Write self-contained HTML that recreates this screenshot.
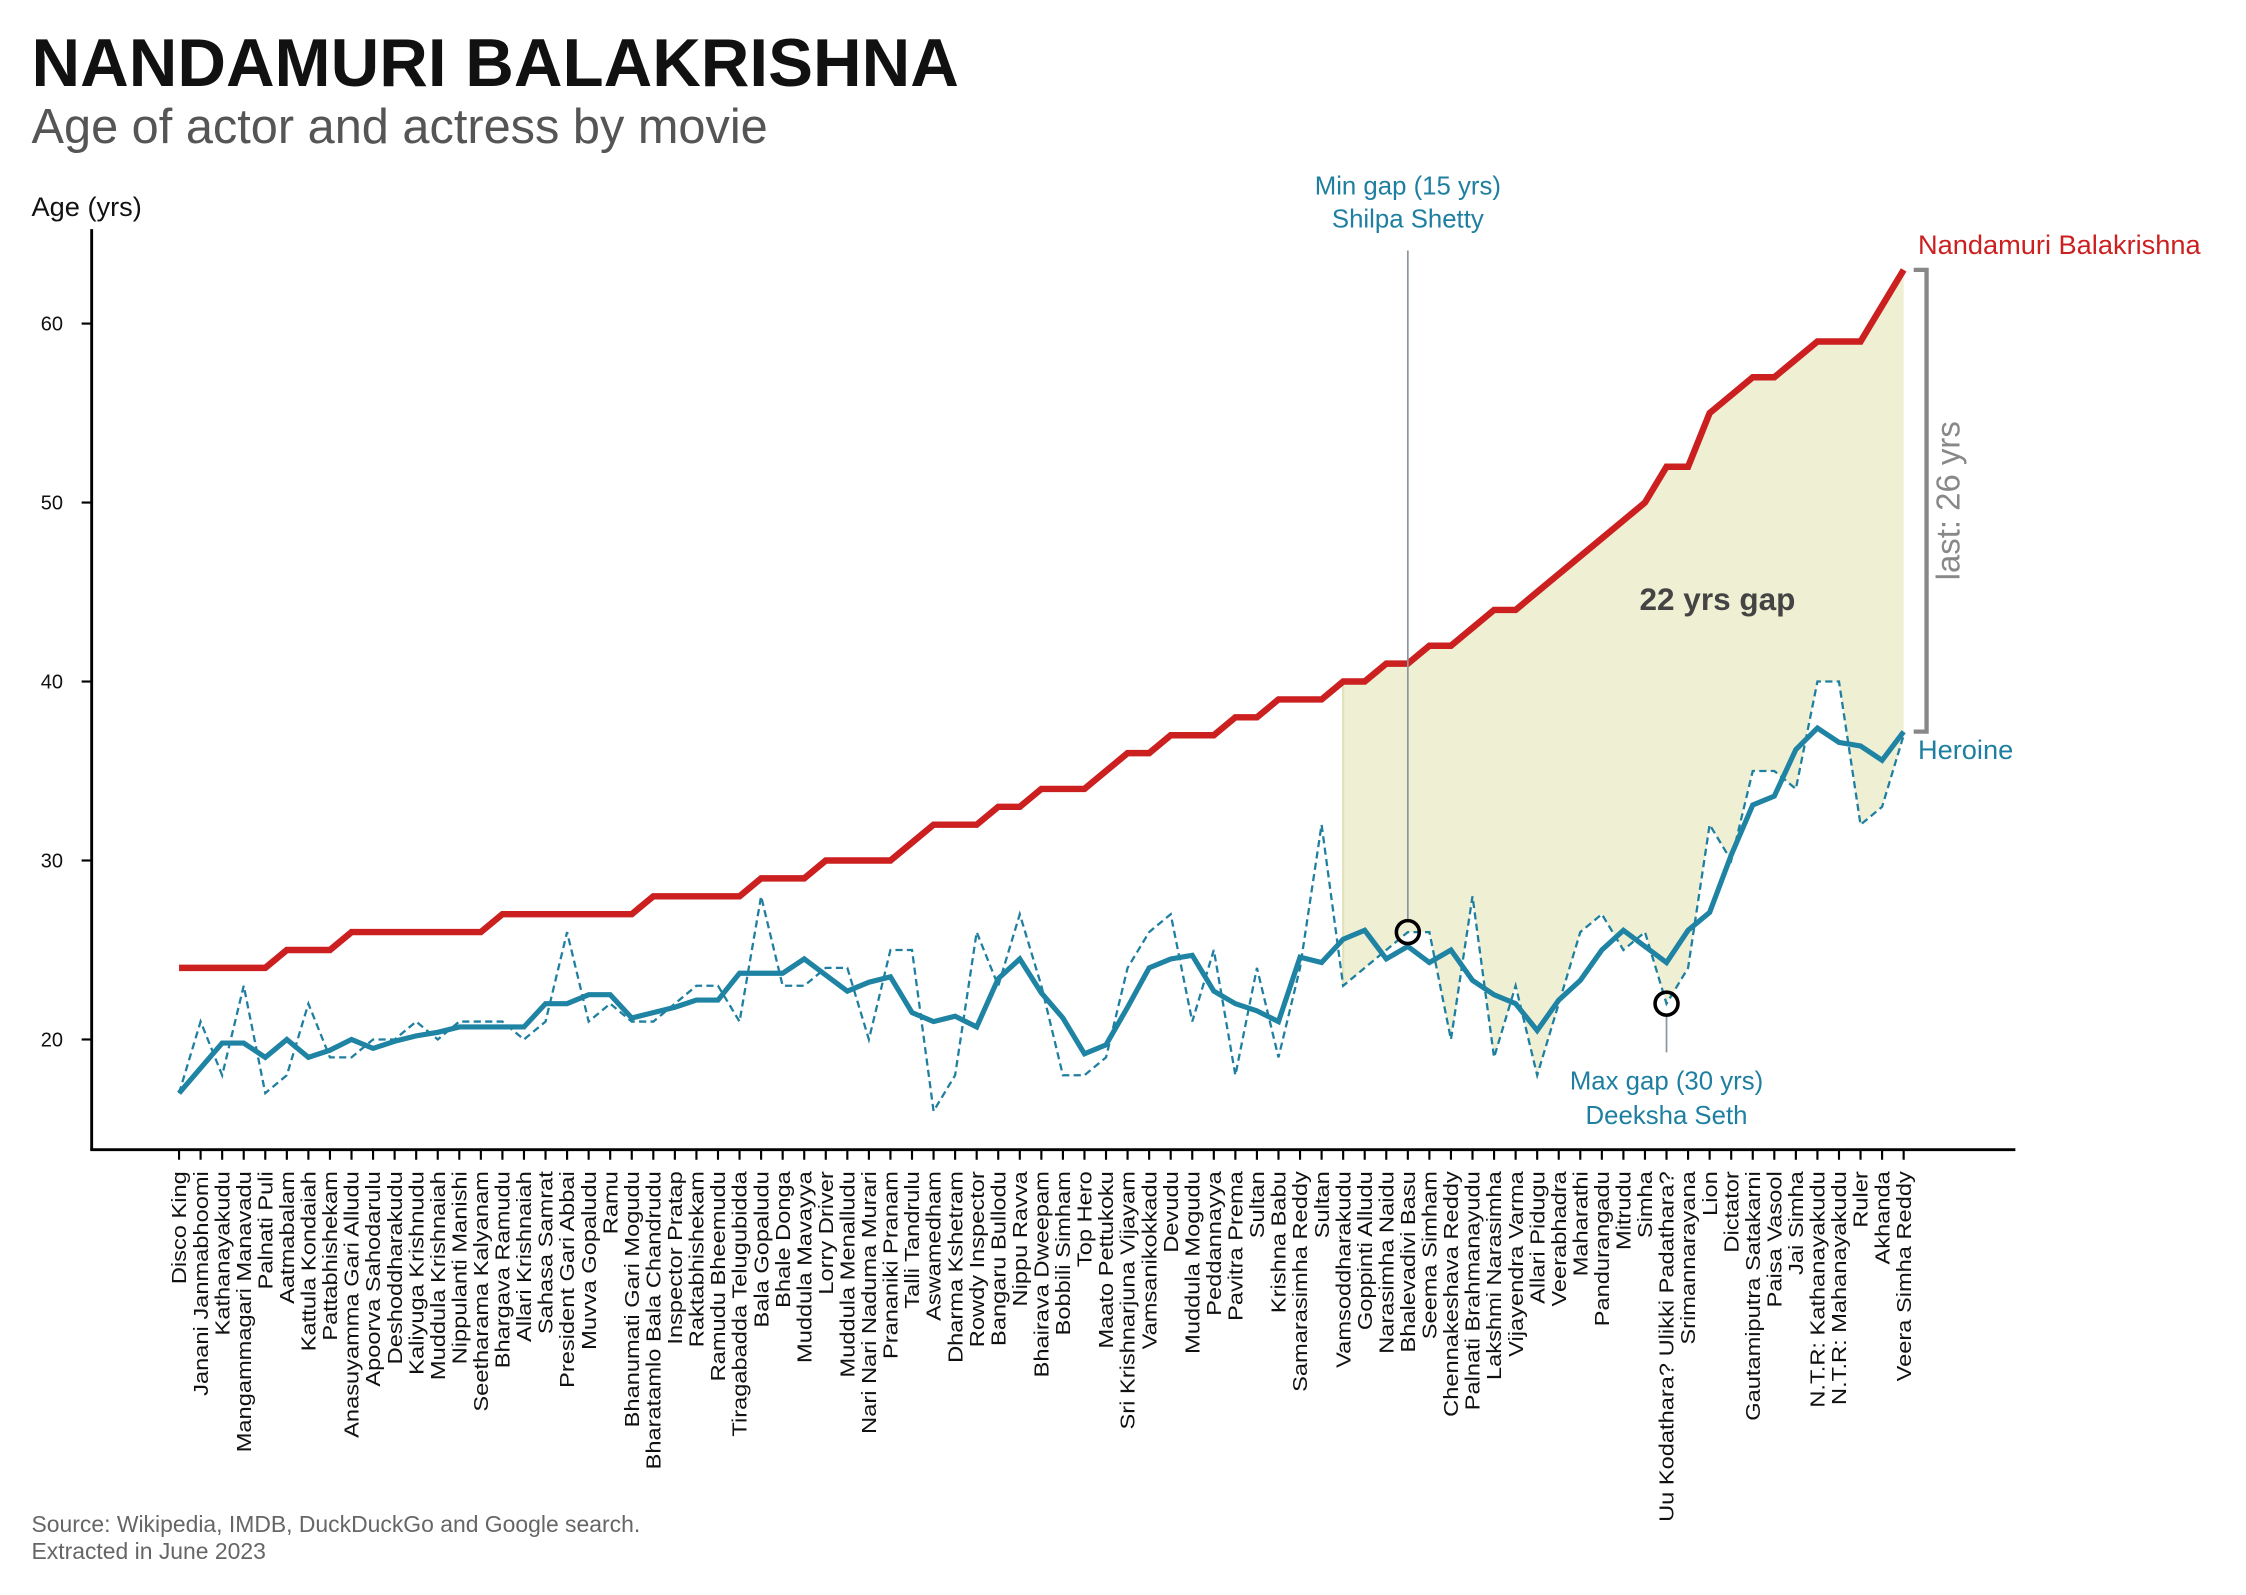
<!DOCTYPE html>
<html><head><meta charset="utf-8"><style>
html,body{margin:0;padding:0;background:#fff;}
svg{display:block;font-family:"Liberation Sans",sans-serif;}
</style></head><body>
<svg id="chart" xmlns="http://www.w3.org/2000/svg" width="2246" height="1595" viewBox="0 0 1568 1114" preserveAspectRatio="none">
<text x="22" y="60" font-size="47" font-weight="bold" fill="#111">NANDAMURI BALAKRISHNA</text>
<text x="22" y="100" font-size="34" fill="#555">Age of actor and actress by movie</text>
<text x="22" y="151" font-size="19" fill="#111">Age (yrs)</text>
<g id="plot"></g>
<text x="22" y="1070" font-size="16" fill="#666">Source: Wikipedia, IMDB, DuckDuckGo and Google search.</text>
<text x="22" y="1089" font-size="16" fill="#666">Extracted in June 2023</text>
</svg>
<script>
const movies = ["Disco King","Janani Janmabhoomi","Kathanayakudu","Mangammagari Manavadu","Palnati Puli","Aatmabalam","Kattula Kondaiah","Pattabhishekam","Anasuyamma Gari Alludu","Apoorva Sahodarulu","Deshoddharakudu","Kaliyuga Krishnudu","Muddula Krishnaiah","Nippulanti Manishi","Seetharama Kalyanam","Bhargava Ramudu","Allari Krishnaiah","Sahasa Samrat","President Gari Abbai","Muvva Gopaludu","Ramu","Bhanumati Gari Mogudu","Bharatamlo Bala Chandrudu","Inspector Pratap","Raktabhishekam","Ramudu Bheemudu","Tiragabadda Telugubidda","Bala Gopaludu","Bhale Donga","Muddula Mavayya","Lorry Driver","Muddula Menalludu","Nari Nari Naduma Murari","Prananiki Pranam","Talli Tandrulu","Aswamedham","Dharma Kshetram","Rowdy Inspector","Bangaru Bullodu","Nippu Ravva","Bhairava Dweepam","Bobbili Simham","Top Hero","Maato Pettukoku","Sri Krishnarjuna Vijayam","Vamsanikokkadu","Devudu","Muddula Mogudu","Peddannayya","Pavitra Prema","Sultan","Krishna Babu","Samarasimha Reddy","Sultan","Vamsoddharakudu","Goppinti Alludu","Narasimha Naidu","Bhalevadivi Basu","Seema Simham","Chennakeshava Reddy","Palnati Brahmanayudu","Lakshmi Narasimha","Vijayendra Varma","Allari Pidugu","Veerabhadra","Maharathi","Pandurangadu","Mitrudu","Simha","Uu Kodathara? Ulikki Padathara?","Srimannarayana","Lion","Dictator","Gautamiputra Satakarni","Paisa Vasool","Jai Simha","N.T.R: Kathanayakudu","N.T.R: Mahanayakudu","Ruler","Akhanda","Veera Simha Reddy"];
const actorAge = [24,24,24,24,24,25,25,25,26,26,26,26,26,26,26,27,27,27,27,27,27,27,28,28,28,28,28,29,29,29,30,30,30,30,31,32,32,32,33,33,34,34,34,35,36,36,37,37,37,38,38,39,39,39,40,40,41,41,42,42,43,44,44,45,46,47,48,49,50,52,52,55,56,57,57,58,59,59,59,61,63];
const heroineAge = [17,21,18,23,17,18,22,19,19,20,20,21,20,21,21,21,20,21,26,21,22,21,21,22,23,23,21,28,23,23,24,24,20,25,25,16,18,26,23,27,23,18,18,19,24,26,27,21,25,18,24,19,24,32,23,24,25,26,26,20,28,19,23,18,22,26,27,25,26,22,24,32,30,35,35,34,40,40,32,33,37];
const heroineTrend = [17,18.4,19.8,19.8,19.0,20.0,19.0,19.4,20.0,19.5,19.9,20.2,20.4,20.7,20.7,20.7,20.7,22.0,22.0,22.5,22.5,21.2,21.5,21.8,22.2,22.2,23.7,23.7,23.7,24.5,23.6,22.7,23.2,23.5,21.5,21.0,21.3,20.7,23.4,24.5,22.6,21.2,19.2,19.7,21.8,24.0,24.5,24.7,22.7,22.0,21.6,21.0,24.6,24.3,25.6,26.1,24.5,25.2,24.3,25.0,23.3,22.5,22.0,20.5,22.2,23.3,25.0,26.1,25.2,24.3,26.1,27.1,30.3,33.1,33.6,36.2,37.4,36.6,36.4,35.6,37.2];
const yTicks = [20,30,40,50,60];
const shadeCount = 27;

const NS = "http://www.w3.org/2000/svg";
const plot = document.getElementById("plot");
const X0 = 125, X1 = 1329;
const n = movies.length;
function xs(i){ return X0 + (X1 - X0) * i / (n - 1); }
function ys(v){ return 726 - (v - 20) * 12.5; }
function mk(tag, attrs, parent){
  const e = document.createElementNS(NS, tag);
  for (const k in attrs) e.setAttribute(k, attrs[k]);
  (parent || plot).appendChild(e);
  return e;
}
function pts(arr, from){ return arr.map((v,k)=> xs(k+from).toFixed(2)+","+ys(v).toFixed(2)).join(" "); }

const s0 = n - shadeCount;
const topEdge = actorAge.slice(s0), botEdge = heroineAge.slice(s0);
let poly = topEdge.map((v,k)=> xs(k+s0)+","+ys(v));
for (let k = botEdge.length - 1; k >= 0; k--) poly.push(xs(k+s0)+","+ys(botEdge[k]));
const shade = mk("polygon", {points: poly.join(" "), fill: "#efefd4", stroke: "none"});


const shadeEdge = mk("line", {x1: xs(s0), x2: xs(s0), y1: ys(actorAge[s0]), y2: ys(heroineAge[s0]), stroke: "#e2e2b8", "stroke-width": 1.5});



const yAxis = mk("line", {x1: 64, x2: 64, y1: 160, y2: 803, stroke: "#000", "stroke-width": 2});


const xAxis = mk("line", {x1: 63, x2: 1407, y1: 803, y2: 803, stroke: "#000", "stroke-width": 2});


yTicks.forEach(t => {
  const tk = mk("line", {x1: 57, x2: 64, y1: ys(t), y2: ys(t), stroke: "#000", "stroke-width": 1.5});
  
  
  const tl = mk("text", {x: 44, y: ys(t) + 5, "font-size": 14, "text-anchor": "end", fill: "#111"});
  
  
  tl.textContent = t;
});
movies.forEach((m, i) => {
  const tk = mk("line", {x1: xs(i), x2: xs(i), y1: 803, y2: 810, stroke: "#000", "stroke-width": 1.5});
  
  
  const tl = mk("text", {x: 0, y: 0, "font-size": 14, "text-anchor": "end", fill: "#111",
    transform: "translate(" + (xs(i) + 5) + ",818) rotate(-90) scale(1.18,1)"});
  
  
  tl.textContent = m;
});

const dashed = mk("polyline", {points: pts(heroineAge, 0), fill: "none", stroke: "#1f7fa0", "stroke-width": 1.6, "stroke-dasharray": "5,3"});


const trend = mk("polyline", {points: pts(heroineTrend, 0), fill: "none", stroke: "#1f83a3", "stroke-width": 3.6});


const actor = mk("polyline", {points: pts(actorAge, 0), fill: "none", stroke: "#cc1f1f", "stroke-width": 4.5});



const gaps = actorAge.map((a,i)=> a - heroineAge[i]);
let minI = s0;
for (let i = s0; i < n; i++) if (gaps[i] < gaps[minI]) minI = i;
const maxI = gaps.lastIndexOf(Math.max(...gaps));
const minLine = mk("line", {x1: xs(minI), x2: xs(minI), y1: 175, y2: ys(heroineAge[minI]) - 8, stroke: "#8a97a0", "stroke-width": 1.2});


const minC = mk("circle", {cx: xs(minI), cy: ys(heroineAge[minI]), r: 8, fill: "none", stroke: "#000", "stroke-width": 2.5});


const minT1 = mk("text", {x: xs(minI), y: 136, "font-size": 18, "text-anchor": "middle", fill: "#1f7fa0"});


minT1.textContent = "Min gap (" + gaps[minI] + " yrs)";
const minT2 = mk("text", {x: xs(minI), y: 159, "font-size": 18, "text-anchor": "middle", fill: "#1f7fa0"});


minT2.textContent = "Shilpa Shetty";

const maxLine = mk("line", {x1: xs(maxI), x2: xs(maxI), y1: ys(heroineAge[maxI]) + 8, y2: 735, stroke: "#8a97a0", "stroke-width": 1.2});


const maxC = mk("circle", {cx: xs(maxI), cy: ys(heroineAge[maxI]), r: 8, fill: "none", stroke: "#000", "stroke-width": 2.5});


const maxT1 = mk("text", {x: xs(maxI), y: 761, "font-size": 18, "text-anchor": "middle", fill: "#1f7fa0"});


maxT1.textContent = "Max gap (" + gaps[maxI] + " yrs)";
const maxT2 = mk("text", {x: xs(maxI), y: 785, "font-size": 18, "text-anchor": "middle", fill: "#1f7fa0"});


maxT2.textContent = "Deeksha Seth";

const last = n - 1;
const actorLbl = mk("text", {x: 1339, y: ys(actorAge[last]) - 11, "font-size": 19, fill: "#cc1f1f"});


actorLbl.textContent = "Nandamuri Balakrishna";
const herLbl = mk("text", {x: 1339, y: ys(heroineTrend[last]) + 19, "font-size": 19, fill: "#1f7fa0"});


herLbl.textContent = "Heroine";
const yA = ys(actorAge[last]), yH = ys(heroineTrend[last]);
const bracket = mk("polyline", {points: "1336," + yA + " 1345," + yA + " 1345," + yH + " 1336," + yH, fill: "none", stroke: "#888", "stroke-width": 3});


const lastLbl = mk("text", {x: 0, y: 0, "font-size": 23, "text-anchor": "middle", fill: "#888",
  transform: "translate(1368," + ((yA + yH) / 2) + ") rotate(-90)"});


lastLbl.textContent = "last: " + Math.round(actorAge[last] - heroineTrend[last]) + " yrs";
const gapLbl = mk("text", {x: 1199, y: 426, "font-size": 22, "font-weight": "bold", "text-anchor": "middle", fill: "#444"});


gapLbl.textContent = "22 yrs gap";
</script>
</body></html>
